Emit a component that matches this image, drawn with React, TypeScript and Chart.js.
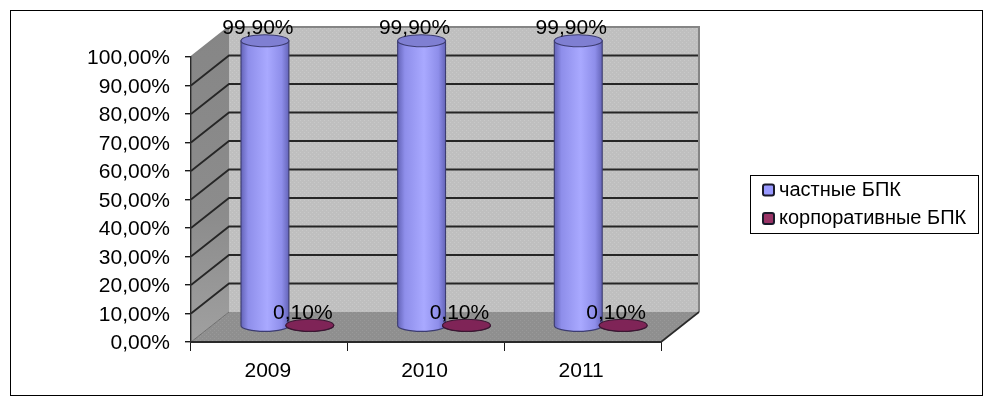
import React, { useEffect, useRef } from "react";
import { Chart, registerables } from "chart.js";

Chart.register(...registerables);

const categories = ["2009", "2010", "2011"];
const privateLabel = "частные БПК";
const corporateLabel = "корпоративные БПК";
const privateValues = [99.9, 99.9, 99.9];
const corporateValues = [0.1, 0.1, 0.1];

const FONT = '"Liberation Sans", Arial, sans-serif';
const fmt = (v: number) => v.toFixed(2).replace(".", ",") + "%";

const DX = 38;
const DY = -30;

function dotPattern(ctx: CanvasRenderingContext2D, base: string, dot: string) {
  const c = document.createElement("canvas");
  c.width = 4;
  c.height = 4;
  const p = c.getContext("2d")!;
  p.fillStyle = base;
  p.fillRect(0, 0, 4, 4);
  p.fillStyle = dot;
  p.fillRect(0, 0, 1, 1);
  p.fillRect(2, 2, 1, 1);
  return ctx.createPattern(c, "repeat")!;
}

const walls = {
  id: "walls",
  beforeDraw(chart: any) {
    const { ctx, chartArea: a, scales } = chart;
    const y = scales.y;

    // nudge the axis text onto the reference's baseline
    y.getLabelItems(a).forEach((item: any) => {
      if (!item.__moved) {
        item.options.translation[1] += 1.6;
        item.__moved = true;
      }
    });
    scales.x.getLabelItems(a).forEach((item: any) => {
      if (!item.__moved) {
        item.options.translation[0] -= 1.5;
        item.options.translation[1] += 1;
        item.__moved = true;
      }
    });

    ctx.save();
    ctx.fillStyle = "#ffffff";
    ctx.fillRect(0, 0, chart.width, chart.height);
    ctx.strokeStyle = "#000000";
    ctx.lineWidth = 1;
    ctx.strokeRect(10.5, 10.5, 972, 385);

    const l = a.left, r = a.right, t = a.top, b = a.bottom;

    // back wall
    ctx.fillStyle = dotPattern(ctx, "#bfbfbf", "#c9c9c9");
    ctx.fillRect(l + DX, t + DY, r - l, b - t);

    // left wall
    const g = ctx.createLinearGradient(l, t + DY, l, b);
    g.addColorStop(0, "#868686");
    g.addColorStop(0.6, "#8c8c8c");
    g.addColorStop(1, "#a0a0a0");
    ctx.fillStyle = g;
    ctx.beginPath();
    ctx.moveTo(l, t);
    ctx.lineTo(l + DX, t + DY);
    ctx.lineTo(l + DX, b + DY);
    ctx.lineTo(l, b);
    ctx.closePath();
    ctx.fill();

    // floor
    ctx.fillStyle = dotPattern(ctx, "#8f8f8f", "#999999");
    ctx.beginPath();
    ctx.moveTo(l, b);
    ctx.lineTo(l + DX, b + DY);
    ctx.lineTo(r + DX, b + DY);
    ctx.lineTo(r, b);
    ctx.closePath();
    ctx.fill();

    // grid lines over the walls
    ctx.strokeStyle = "#262626";
    ctx.lineWidth = 1.8;
    y.ticks.forEach((tick: any) => {
      const py = y.getPixelForValue(tick.value);
      if (tick.value === 0 || tick.value === 100) return;
      ctx.beginPath();
      ctx.moveTo(l, py);
      ctx.lineTo(l + DX, py + DY);
      ctx.lineTo(r + DX - 1, py + DY);
      ctx.stroke();
    });

    // wall edges
    ctx.strokeStyle = "#858585";
    ctx.lineWidth = 2;
    ctx.beginPath();
    ctx.moveTo(l, t);
    ctx.lineTo(l + DX, t + DY);
    ctx.lineTo(r + DX, t + DY);
    ctx.lineTo(r + DX, b + DY);
    ctx.stroke();
    ctx.strokeStyle = "#6e6e6e";
    ctx.lineWidth = 1;
    ctx.beginPath();
    ctx.moveTo(l, b);
    ctx.lineTo(l + DX, b + DY);
    ctx.stroke();
    ctx.strokeStyle = "#2a2a2a";
    ctx.lineWidth = 1.6;
    ctx.beginPath();
    ctx.moveTo(r, b);
    ctx.lineTo(r + DX, b + DY);
    ctx.stroke();
    ctx.restore();
  },
};

function drawCylinder(ctx: CanvasRenderingContext2D, el: any, dark: string, mid: string, light: string, cap: string, line: string) {
  const cx = el.x - 0.2 + DX * 0.48;
  const rx = el.width / 2;
  const ry = 6;
  const top = el.y + DY * 0.55;
  const base = el.base + DY * 0.53;
  ctx.save();
  const g = ctx.createLinearGradient(cx - rx, 0, cx + rx, 0);
  g.addColorStop(0, dark);
  g.addColorStop(0.15, mid);
  g.addColorStop(0.55, light);
  g.addColorStop(0.85, mid);
  g.addColorStop(1, dark);
  ctx.fillStyle = g;
  ctx.strokeStyle = line;
  ctx.lineWidth = 1.1;
  ctx.beginPath();
  ctx.moveTo(cx - rx, top);
  ctx.lineTo(cx - rx, base);
  ctx.ellipse(cx, base, rx, ry, 0, Math.PI, 0, true);
  ctx.lineTo(cx + rx, top);
  ctx.closePath();
  ctx.fill();
  ctx.stroke();
  ctx.fillStyle = cap;
  ctx.beginPath();
  ctx.ellipse(cx, top, rx, ry, 0, 0, Math.PI * 2);
  ctx.fill();
  ctx.stroke();
  ctx.restore();
}

const cylinders = {
  id: "cylinders",
  beforeDatasetDraw() {
    return false;
  },
  afterDatasetsDraw(chart: any) {
    const { ctx } = chart;
    const first = chart.getDatasetMeta(0).data;
    const second = chart.getDatasetMeta(1).data;
    first.forEach((el: any) => drawCylinder(ctx, el, "#6464b8", "#8e8eea", "#a9a9ff", "#7f7fd2", "#3c3c70"));
    second.forEach((el: any) => drawCylinder(ctx, el, "#7a2354", "#7f2457", "#86285c", "#7f2457", "#3a1632"));
    ctx.save();
    ctx.fillStyle = "#000000";
    ctx.font = `21px ${FONT}`;
    ctx.textAlign = "center";
    ctx.textBaseline = "middle";
    chart.data.datasets.forEach((ds: any, i: number) => {
      chart.getDatasetMeta(i).data.forEach((el: any, j: number) => {
        ctx.fillText(fmt(ds.data[j]), el.x + 11, el.y + DY * 0.53 - 13);
      });
    });
    ctx.restore();
  },
};

const legendBox = {
  id: "legendBox",
  afterDraw(chart: any) {
    const { ctx } = chart;
    ctx.save();
    ctx.fillStyle = "#ffffff";
    ctx.fillRect(750, 175, 228, 59);
    ctx.strokeStyle = "#000000";
    ctx.lineWidth = 1;
    ctx.strokeRect(750.5, 175.5, 228, 58);
    ctx.font = `20px ${FONT}`;
    ctx.textBaseline = "middle";
    chart.data.datasets.forEach((ds: any, i: number) => {
      const y = 190 + i * 28.5;
      ctx.fillStyle = ds.backgroundColor;
      ctx.strokeStyle = "#1a1a2a";
      ctx.lineWidth = 2;
      ctx.beginPath();
      ctx.roundRect(763, y - 5.5, 11, 11, 2);
      ctx.fill();
      ctx.stroke();
      ctx.fillStyle = "#000000";
      ctx.fillText(ds.label, 779, y);
    });
    ctx.restore();
  },
};

export default function App() {
  const ref = useRef<HTMLCanvasElement | null>(null);
  useEffect(() => {
    const chart = new Chart(ref.current!, {
      type: "bar",
      data: {
        labels: categories,
        datasets: [
          { label: privateLabel, data: privateValues, backgroundColor: "#9999ff", categoryPercentage: 0.573, barPercentage: 1.067 },
          { label: corporateLabel, data: corporateValues, backgroundColor: "#993366", categoryPercentage: 0.573, barPercentage: 1.067 },
        ],
      },
      options: {
        animation: false,
        responsive: false,
        devicePixelRatio: 1,
        layout: { padding: { left: 0, top: 57, right: 330, bottom: 0 } },
        plugins: { legend: { display: false }, tooltip: { enabled: false }, title: { display: false } },
        scales: {
          x: {
            afterFit: (s: any) => { s.height = 62; },
            grid: { offset: true, drawOnChartArea: false, drawTicks: true, tickLength: 9, color: "#1a1a1a", lineWidth: 1 },
            border: { display: true, color: "#2a2a2a", width: 2 },
            ticks: { color: "#000000", padding: 7, maxRotation: 0, font: { family: FONT, size: 21 } },
          },
          y: {
            min: 0,
            max: 100,
            afterFit: (s: any) => { s.width = 191; },
            grid: { drawOnChartArea: false, drawTicks: true, tickLength: 6, color: "#1a1a1a", lineWidth: 1.4 },
            border: { display: true, color: "#2a2a2a", width: 1.4 },
            ticks: {
              stepSize: 10,
              color: "#000000",
              padding: 15,
              font: { family: FONT, size: 21 },
              callback: (v: any) => fmt(Number(v)),
            },
          },
        },
      },
      plugins: [walls, cylinders, legendBox],
    } as any);
    return () => chart.destroy();
  }, []);
  return (
    <div style={{ position: "fixed", left: 0, top: 0, width: 991, height: 404 }}>
      <canvas ref={ref} width={991} height={404} style={{ display: "block" }} />
    </div>
  );
}
